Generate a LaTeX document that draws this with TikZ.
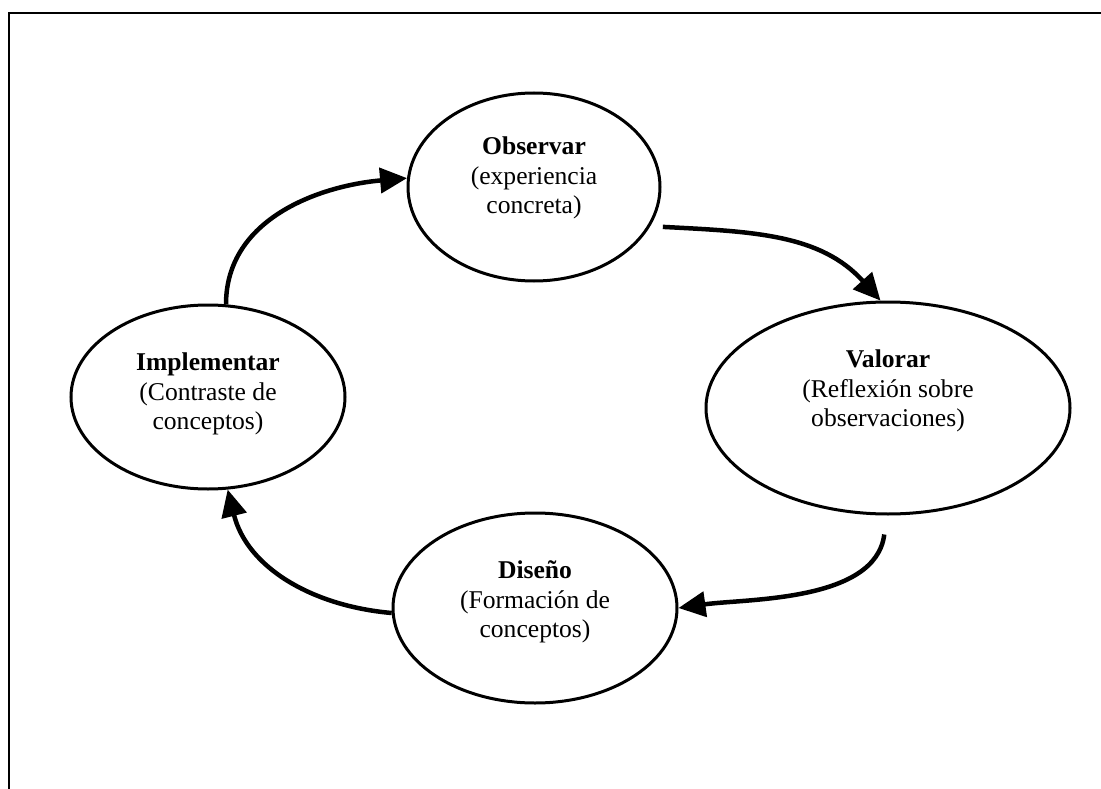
\documentclass[tikz,border=0pt]{standalone}
\usepackage{fontspec}
\setmainfont{Liberation Serif}
\usetikzlibrary{shapes.geometric,arrows.meta}

\tikzset{
  stage/.style={draw, ellipse, line width=3pt, inner sep=0pt},
  stagetext/.style={align=center, inner sep=0pt, font=\fontsize{25.6}{29.5}\selectfont},
  flow/.style={line width=4.5pt, -{Triangle[length=27pt,width=25pt]}},
  frameline/.style={line width=2pt}
}

\begin{document}
\begin{tikzpicture}[x=1pt,y=1pt]
  \useasboundingbox (0,0) rectangle (1101,-789);

  % page frame (top and left edges)
  \draw[frameline] (9,-789) -- (9,-13) -- (1101,-13);

  % the four stages of the cycle
  \node[stage, minimum width=252pt, minimum height=188pt] (obs) at (534,-187) {};
  \node[stage, minimum width=364pt, minimum height=212pt] (val) at (888,-408) {};
  \node[stage, minimum width=284pt, minimum height=190pt] (dis) at (535,-608) {};
  \node[stage, minimum width=274pt, minimum height=184pt] (imp) at (208,-397) {};

  % stage captions
  \node[stagetext] (obs-t) at ([yshift=9pt]obs.center) {\textbf{Observar}\\(experiencia\\concreta)};
  \node[stagetext] (val-t) at ([yshift=17pt]val.center) {\textbf{Valorar}\\(Reflexión sobre\\observaciones)};
  \node[stagetext] (dis-t) at ([yshift=6pt]dis.center) {\textbf{Diseño}\\(Formación de\\conceptos)};
  \node[stagetext] (imp-t) at ([yshift=3pt]imp.center) {\textbf{Implementar}\\(Contraste de\\conceptos)};

  % loose start points of two connectors
  \coordinate (obs-out) at ([xshift=13pt]obs.-19);
  \coordinate (val-out) at ([yshift=-19pt]val.-92);

  % cycle arrows
  \draw[flow] (imp.79) to[out=90, in=185] (obs.176);
  \draw[flow] (obs-out) to[out=-3, in=132] (val.94);
  \draw[flow] (val-out) to[out=-97, in=8, looseness=0.8] (dis.east);
  \draw[flow] (dis.182) to[out=175, in=-76] (imp.-78);
\end{tikzpicture}
\end{document}
